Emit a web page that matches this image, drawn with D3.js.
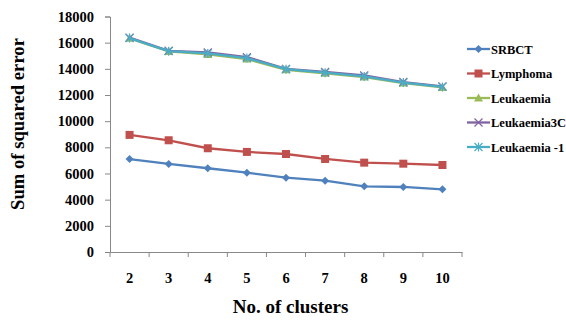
<!DOCTYPE html>
<html><head><meta charset="utf-8">
<script src="https://cdn.jsdelivr.net/npm/d3@7"></script>
<style>body{margin:0;background:#fff}svg{display:block}</style>
</head><body><svg id="c" width="566" height="320"></svg>
<script>
const FONT = "'Liberation Serif', 'Times New Roman', Times, serif";
const clusters = [2,3,4,5,6,7,8,9,10];
const srbct = [7100,6730,6400,6060,5680,5450,5020,4970,4790];
const lymphoma = [8950,8540,7930,7650,7490,7110,6830,6750,6650];
const leukaemia = [16330,15330,15100,14750,13930,13660,13370,12910,12580];
const leukaemia3C = [16380,15380,15250,14900,14000,13760,13500,12990,12660];
const leukaemia1 = [16350,15350,15180,14820,13970,13710,13420,12950,12620];
const yTicks = [0,2000,4000,6000,8000,10000,12000,14000,16000,18000];
const seriesNames = ["SRBCT","Lymphoma","Leukaemia","Leukaemia3C","Leukaemia -1"];
const colors = ["#4F81BD","#C0504D","#9BBB59","#8064A2","#4BACC6"];
const symbolsT = ["diamond","square","triangle","x","star"];

const series = [srbct,lymphoma,leukaemia,leukaemia3C,leukaemia1].map((v,i)=>({name:seriesNames[i],values:v,color:colors[i],sym:symbolsT[i]}));
const svg = d3.select("#c");
const x = d3.scaleBand().domain(clusters).range([110,462]);
const y = d3.scaleLinear().domain([0,18000]).range([252,16.5]);
const cx = d=>x(d)+x.bandwidth()/2;

const axisColor="#888";
const yAx = svg.append("g").attr("transform","translate(110,0)").call(d3.axisLeft(y).tickValues(yTicks).tickSize(5).tickPadding(11).tickFormat(d3.format("d")));
const xAx = svg.append("g").attr("transform","translate(0,252)").call(d3.axisBottom(x).tickSize(0).tickPadding(21));
[yAx,xAx].forEach(a=>{a.attr("font-family",null);a.select(".domain").attr("stroke",axisColor);a.selectAll("line").attr("stroke",axisColor);a.selectAll("text").attr("fill","#000").style("font-family",FONT).style("font-weight","bold").style("font-size","14.5px");});
const bounds = clusters.map(c=>x(c)).concat([x(clusters[clusters.length-1])+x.bandwidth()]);
svg.append("g").selectAll("line").data(bounds).join("line").attr("x1",d=>d).attr("x2",d=>d).attr("y1",252).attr("y2",257).attr("stroke",axisColor);

function marker(g,sym,color,px,py){
  if(sym==="diamond"){g.append("path").attr("d",`M${px},${py-4}L${px+4},${py}L${px},${py+4}L${px-4},${py}Z`).attr("fill",color);}
  else if(sym==="square"){g.append("rect").attr("x",px-4).attr("y",py-4).attr("width",8).attr("height",8).attr("fill",color);}
  else if(sym==="triangle"){g.append("path").attr("d",`M${px},${py-4.5}L${px+4.5},${py+3.5}L${px-4.5},${py+3.5}Z`).attr("fill",color);}
  else if(sym==="x"){g.append("path").attr("d",`M${px-4},${py-4}L${px+4},${py+4}M${px+4},${py-4}L${px-4},${py+4}`).attr("stroke",color).attr("stroke-width",1.2);}
  else if(sym==="star"){g.append("path").attr("d",`M${px-4},${py-4}L${px+4},${py+4}M${px+4},${py-4}L${px-4},${py+4}M${px},${py-4.5}L${px},${py+4.5}`).attr("stroke",color).attr("stroke-width",1.2);}
}
const line = d3.line().x((d,i)=>cx(clusters[i])).y(d=>y(d));
series.forEach(s=>{
  const g = svg.append("g");
  g.append("path").attr("d",line(s.values)).attr("fill","none").attr("stroke",s.color).attr("stroke-width",2.3);
  s.values.forEach((v,i)=>marker(g,s.sym,s.color,cx(clusters[i]),y(v)));
});

const lg = svg.append("g");
series.forEach((s,i)=>{
  const ly = 49+i*24.5;
  lg.append("line").attr("x1",467).attr("x2",490).attr("y1",ly).attr("y2",ly).attr("stroke",s.color).attr("stroke-width",2.3);
  marker(lg,s.sym,s.color,478.5,ly);
  lg.append("text").attr("x",491).attr("y",ly+4.5).style("font-family",FONT).style("font-weight","bold").style("font-size","12.5px").text(s.name);
});

function fit(t,w){const bw=t.node().getComputedTextLength();const fs=parseFloat(t.style("font-size"));t.style("font-size",(fs*w/bw).toFixed(2)+"px");}
const yt = svg.append("text").attr("transform","translate(23.5,124) rotate(-90)").attr("text-anchor","middle").style("font-family",FONT).style("font-weight","bold").style("font-size","17px").text("Sum of squared error");
fit(yt,172);
const xt = svg.append("text").attr("x",290.5).attr("y",313).attr("text-anchor","middle").style("font-family",FONT).style("font-weight","bold").style("font-size","19px").text("No. of clusters");
fit(xt,115.6);
</script></body></html>
